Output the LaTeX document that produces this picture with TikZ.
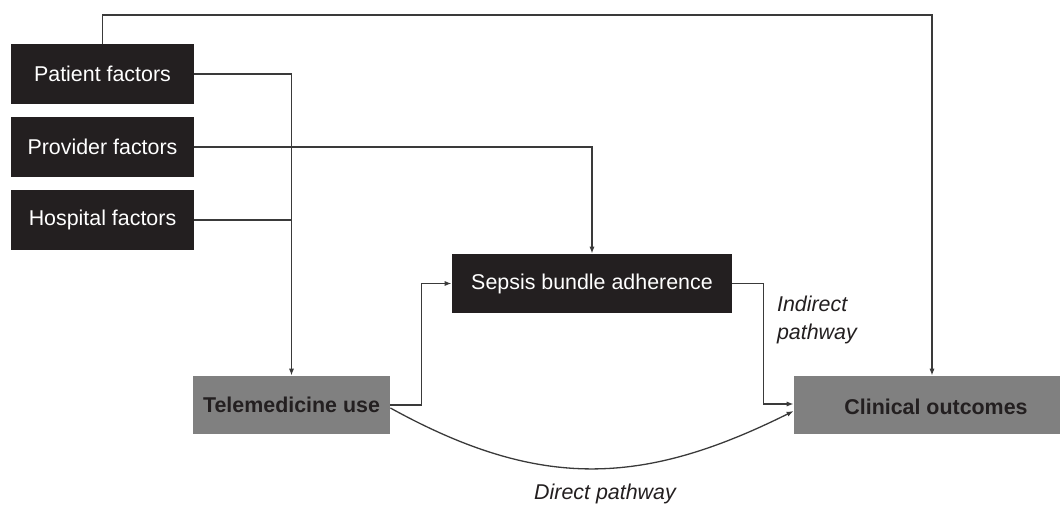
\documentclass[tikz,border=0pt]{standalone}
\usepackage{fontspec}
\setmainfont{Liberation Sans}
\usetikzlibrary{arrows.meta}
\definecolor{boxblack}{HTML}{231F20}
\definecolor{boxgray}{HTML}{808080}
\definecolor{linegray}{HTML}{3A3A3A}
\begin{document}
\begin{tikzpicture}[x=0.5pt,y=-0.5pt,
  every node/.style={font=\fontsize{10.7}{14}\selectfont},
  darkbox/.style={fill=boxblack,text=white,minimum height=30pt,inner sep=0pt},
  graybox/.style={fill=boxgray,text=boxblack,font=\fontsize{10.7}{14}\selectfont\bfseries,minimum height=29pt,inner sep=0pt},
  conn/.style={draw=linegray,line width=0.65pt},
  arr/.style={conn,-{Latex[length=3.5pt,width=2.6pt]}},
  lbl/.style={font=\fontsize{10.7}{14}\selectfont\itshape,text=boxblack}]
\useasboundingbox (0,0) rectangle (1060,505);
% nodes
\node[darkbox,minimum width=91.5pt] (pat) at (102.5,74) {Patient factors};
\node[darkbox,minimum width=91.5pt] (prov) at (102.5,147) {Provider factors};
\node[darkbox,minimum width=91.5pt] (hosp) at (102.5,220) {Hospital factors};
\node[darkbox,minimum width=140pt,minimum height=29.5pt] (sep) at (592,283.5) {Sepsis bundle adherence};
\node[graybox,minimum width=98.5pt] (tele) at (291.5,405) {Telemedicine use};
\node[graybox,minimum width=133pt] (clin) at (927,405) {};
\node[font=\fontsize{10.7}{14}\selectfont\bfseries,text=boxblack] (clintext) at (936,407) {Clinical outcomes};
\coordinate (topc) at (932,15);
\node[lbl,align=left,anchor=west] (ind) at (770,320) {Indirect\\pathway};
\node[lbl] (dir) at (605,494) {Direct pathway};
% connectors
\draw[arr] (pat.north) |- (topc) -- (topc |- clin.north);
\draw[arr] (pat.east) -| (tele.north);
\draw[conn] (hosp.east) -- (hosp.east -| tele.north);
\draw[arr] (prov.east) -| (sep.north);
\draw[arr] (tele.east) -- ++(31,0) |- (sep.west);
\draw[arr] (sep.east) -- ++(31,0) |- ([yshift=0.5pt]clin.west);
\draw[arr] ([yshift=-1.5pt]tele.east) .. controls (540,490.5) and (643,486) .. ([yshift=-3pt]clin.west);
\end{tikzpicture}
\end{document}
